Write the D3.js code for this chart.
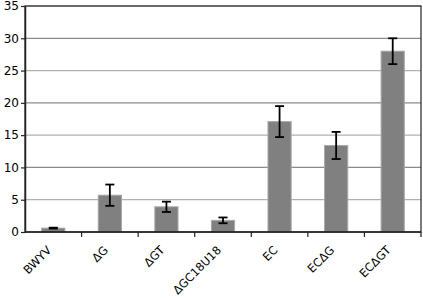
<!DOCTYPE html>
<html><head><meta charset="utf-8">
<script src="https://cdn.jsdelivr.net/npm/d3@7"></script>
<style>body{margin:0;background:#fff}svg{display:block}</style>
</head><body>
<script>
const categories = ["BWYV","ΔG","ΔGT","ΔGC18U18","EC","ECΔG","ECΔGT"];
const values = [0.6, 5.7, 3.9, 1.8, 17.1, 13.4, 28.0];
const errors = [0.07, 1.65, 0.8, 0.45, 2.4, 2.1, 2.0];
const yTicks = [0,5,10,15,20,25,30,35];

const W=423,H=298, m={l:25,t:6,r:2,b:66};
const svg=d3.select("body").append("svg").attr("width",W).attr("height",H);
const x=d3.scaleBand().domain(categories).range([m.l,W-m.r]).paddingInner(0.59).paddingOuter(0.295);
const xb=d3.scaleBand().domain(categories).range([m.l,W-m.r]);
const y=d3.scaleLinear().domain([0,35]).range([H-m.b,m.t]);

// gridlines
svg.append("g").selectAll("line").data(yTicks.slice(1)).join("line")
 .attr("x1",m.l).attr("x2",W-m.r).attr("y1",d=>y(d)).attr("y2",d=>y(d))
 .attr("stroke",(d,i)=>i%2? "#8a8a8a":"#b0b0b0").attr("stroke-width",1.2);

// bars
svg.append("g").selectAll("rect").data(values).join("rect")
 .attr("x",(d,i)=>x(categories[i])).attr("width",x.bandwidth())
 .attr("y",d=>y(d)).attr("height",d=>y(0)-y(d))
 .attr("fill","#808080").attr("stroke","#a8a8a8").attr("stroke-width",1);

// error bars
const eg=svg.append("g").attr("stroke","#000").attr("stroke-width",1.8);
values.forEach((v,i)=>{
 const cx=x(categories[i])+x.bandwidth()/2;
 const t=y(v+errors[i]), b=y(v-errors[i]);
 eg.append("line").attr("x1",cx).attr("x2",cx).attr("y1",t).attr("y2",b);
 eg.append("line").attr("x1",cx-4.5).attr("x2",cx+4.5).attr("y1",t).attr("y2",t);
 eg.append("line").attr("x1",cx-4.5).attr("x2",cx+4.5).attr("y1",b).attr("y2",b);
});

// frame
svg.append("rect").attr("x",m.l).attr("y",m.t).attr("width",W-m.r-m.l).attr("height",H-m.b-m.t)
 .attr("fill","none").attr("stroke","#222").attr("stroke-width",1.2);

// y axis
const ya=svg.append("g").attr("transform",`translate(${m.l},0)`)
 .call(d3.axisLeft(y).tickValues(yTicks).tickSize(4).tickSizeOuter(0));
ya.select(".domain").attr("stroke","#222").attr("stroke-width",1.5);
ya.selectAll(".tick line").attr("stroke","#222").attr("stroke-width",1.2);
ya.selectAll("text").attr("font-family","DejaVu Sans").attr("font-size",12).attr("fill","#000").attr("x",-6);

// x axis
const xa=svg.append("g").attr("transform",`translate(0,${H-m.b})`);
xa.append("line").attr("x1",m.l).attr("x2",W-m.r).attr("stroke","#222").attr("stroke-width",1.5);
xa.selectAll(".tk").data(categories).join("line").attr("class","tk")
 .attr("x1",d=>xb(d)+xb.bandwidth()).attr("x2",d=>xb(d)+xb.bandwidth()).attr("y1",0).attr("y2",5)
 .attr("stroke","#222").attr("stroke-width",1.2);
xa.selectAll("text").data(categories).join("text")
 .attr("transform",d=>`translate(${xb(d)+xb.bandwidth()/2-4},16) rotate(-45)`)
 .attr("text-anchor","end").attr("dy","0.35em")
 .attr("font-family","DejaVu Sans").attr("font-size",11.5).attr("fill","#000").text(d=>d);
</script>
</body></html>
